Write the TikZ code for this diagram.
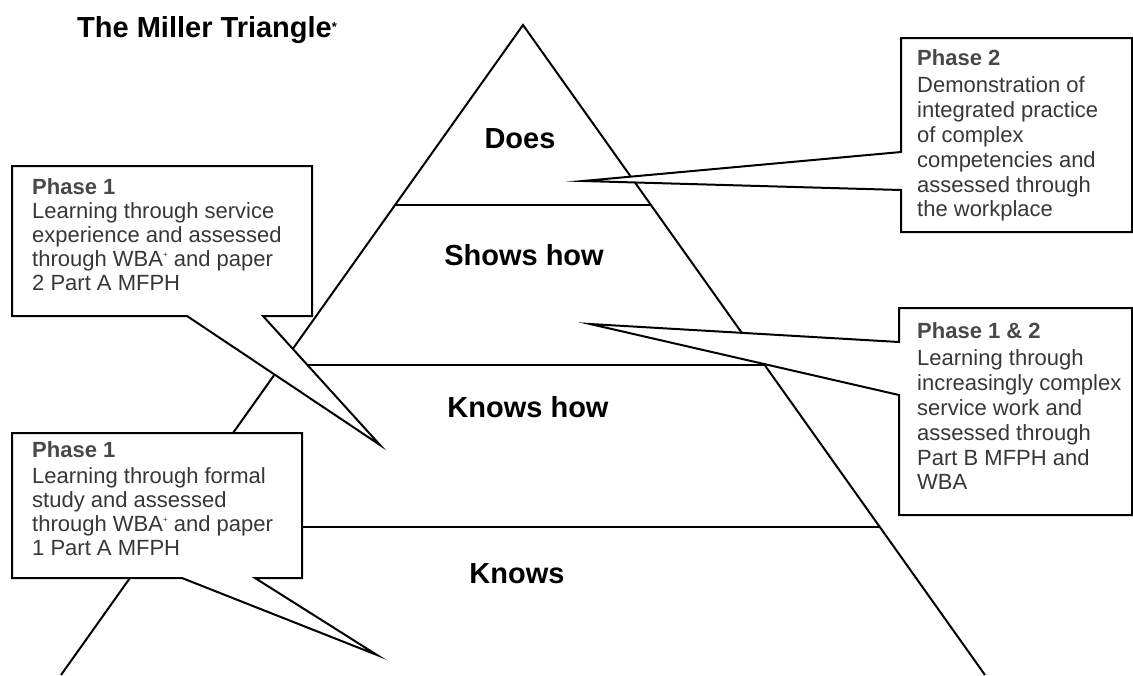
\documentclass[tikz,border=0pt]{standalone}
\usepackage{fontspec}
\setmainfont{Liberation Sans}
\usetikzlibrary{calc}
\definecolor{bodygray}{RGB}{55,55,55}
\definecolor{headgray}{RGB}{72,72,72}
\newcommand{\phasehead}[1]{\leavevmode{\bfseries\color{headgray}#1}}
\newcommand{\plussup}{\raisebox{9pt}{\fontsize{8}{8}\selectfont +}}
\tikzset{
  edge/.style={line width=2pt, draw=black},
  callout/.style={line width=2pt, draw=black, fill=white, line join=miter, miter limit=20},
  levellabel/.style={font=\fontsize{29}{32}\selectfont\bfseries, anchor=base, inner sep=0},
  boxtext/.style={anchor=base west, inner sep=0, text=bodygray, font=\fontsize{22}{24}\selectfont},
  boxtextwide/.style={boxtext, font=\fontsize{22}{24.8}\selectfont},
}
\begin{document}
\begin{tikzpicture}[x=1pt,y=-1pt]
\useasboundingbox (0,0) rectangle (1133,675);
% triangle
\coordinate (apex) at (523,25);
\coordinate (bl) at (61,675);
\coordinate (br) at (985,675);
\draw[edge] (bl) -- (apex) -- (br);
\coordinate (l1) at ($(apex)!{180/650}!(bl)$);
\coordinate (r1) at ($(apex)!{180/650}!(br)$);
\coordinate (l2) at ($(apex)!{340/650}!(bl)$);
\coordinate (r2) at ($(apex)!{340/650}!(br)$);
\coordinate (l3) at ($(apex)!{502/650}!(bl)$);
\coordinate (r3) at ($(apex)!{502/650}!(br)$);
\draw[edge] (l1) -- (r1);
\draw[edge] (l2) -- (r2);
\draw[edge] (l3) -- (r3);
% level labels
\node[levellabel] (does) at (520,148) {Does};
\node[levellabel] (shows) at (524,265) {Shows how};
\node[levellabel] (knowshow) at (528,417) {Knows how};
\node[levellabel] (knows) at (517,583) {Knows};
% callout 1 (upper left)
\coordinate (c1tip) at (380,445);
\draw[callout] (12,166) -- (312,166) -- (312,316) -- (263,316) -- (c1tip) -- (187,316) -- (12,316) -- cycle;
\node[boxtext] (t1) at (32,194) {\parbox[t]{270pt}{\raggedright\phasehead{Phase 1}\\[0.5pt]
Learning through service\\ experience and assessed\\ through WBA\plussup{} and paper\\ 2 Part A MFPH}};
% callout 2 (lower left)
\coordinate (c2tip) at (377,655);
\draw[callout] (12,433) -- (302,433) -- (302,578) -- (255,578) -- (c2tip) -- (182,578) -- (12,578) -- cycle;
\node[boxtext] (t2) at (32,457) {\parbox[t]{260pt}{\raggedright\phasehead{Phase 1}\\[2pt]
Learning through formal\\ study and assessed\\ through WBA\plussup{} and paper\\ 1 Part A MFPH}};
% callout 3 (upper right)
\coordinate (c3tip) at (583,181);
\draw[callout] (901,38) -- (1132,38) -- (1132,232) -- (901,232) -- (901,190) -- (c3tip) -- (901,152) -- cycle;
\node[boxtextwide] (t3) at (917,65) {\parbox[t]{214pt}{\raggedright\phasehead{Phase 2}\\[3pt]
Demonstration of\\ integrated practice\\ of complex\\ competencies and\\ assessed through\\ the workplace}};
% callout 4 (lower right)
\coordinate (c4tip) at (590,324);
\draw[callout] (899,308) -- (1132,308) -- (1132,515) -- (899,515) -- (899,395) -- (c4tip) -- (899,342) -- cycle;
\node[boxtextwide] (t4) at (917,338) {\parbox[t]{214pt}{\raggedright\phasehead{Phase 1 \& 2}\\[3pt]
Learning through\\ increasingly complex\\ service work and\\ assessed through\\ Part B MFPH and\\ WBA}};
% title
\node[anchor=base west, inner sep=0, font=\fontsize{29}{32}\selectfont\bfseries] (title) at (77,37)
  {The Miller Triangle\raisebox{6pt}{\fontsize{13}{13}\selectfont *}};
\end{tikzpicture}
\end{document}
